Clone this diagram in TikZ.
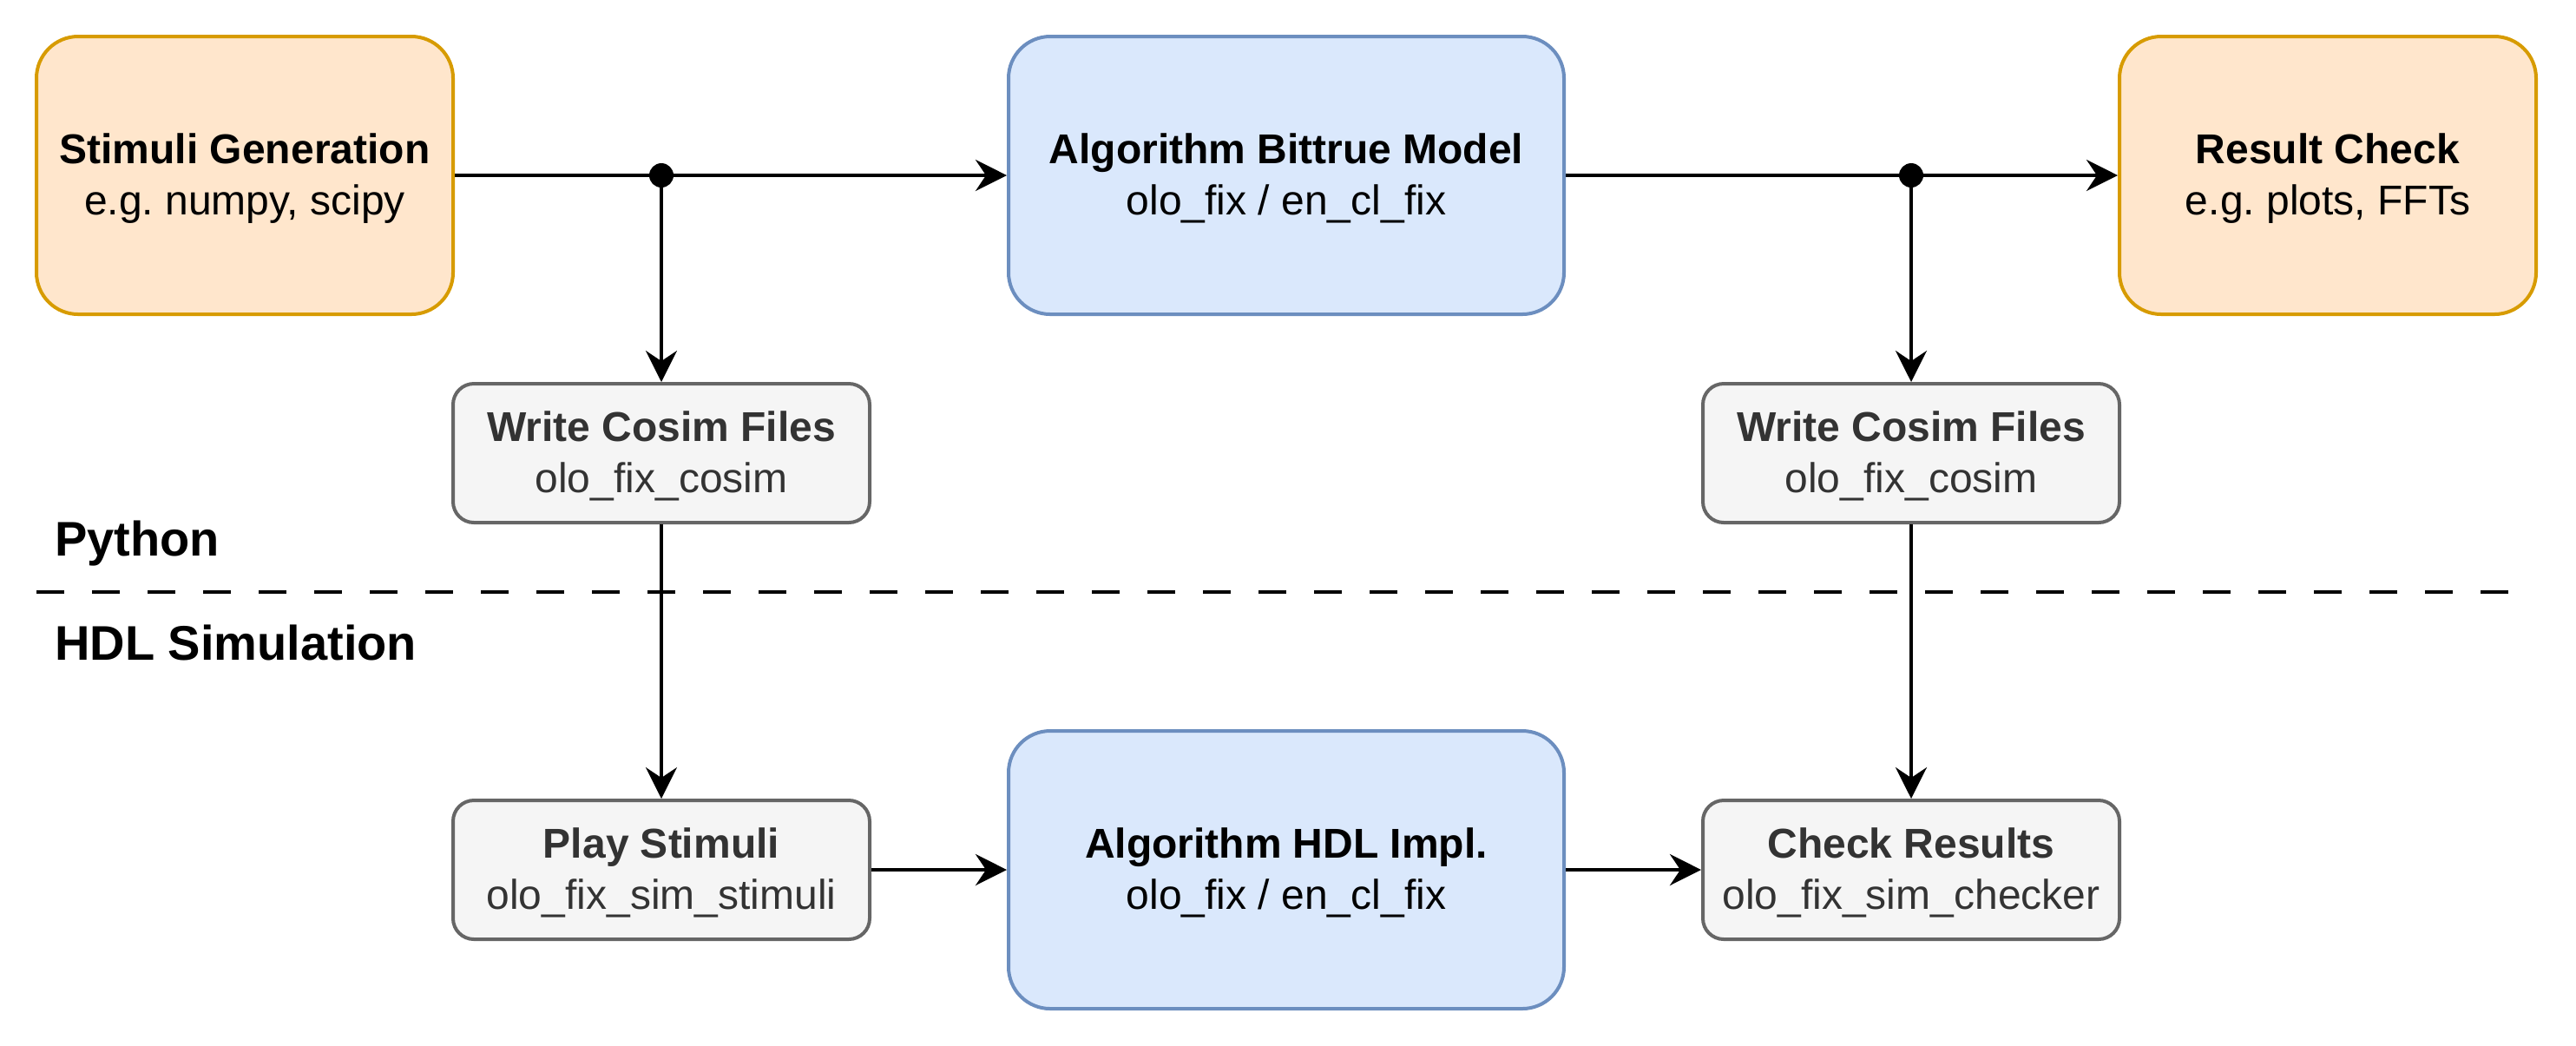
\documentclass[tikz,border=0pt]{standalone}
\usepackage{fontspec}
\setmainfont{Liberation Sans}
\frenchspacing
\usetikzlibrary{arrows.meta}
\definecolor{orfill}{HTML}{FFE6CC}
\definecolor{ordraw}{HTML}{D79B00}
\definecolor{blfill}{HTML}{DAE8FC}
\definecolor{bldraw}{HTML}{6C8EBF}
\definecolor{grfill}{HTML}{F5F5F5}
\definecolor{grdraw}{HTML}{666666}
\definecolor{grtext}{HTML}{333333}
\newcommand{\twolines}[2]{\rule{0pt}{10.4pt}\textbf{#1}\\#2}
\tikzset{
  boxbase/.style={draw, line width=1pt, inner sep=0pt, align=center,
    font=\fontsize{12}{14.8}\selectfont},
  bigbox/.style={boxbase, minimum height=80pt, rounded corners=12pt},
  orbox/.style={bigbox, fill=orfill, draw=ordraw, minimum width=120pt},
  blbox/.style={bigbox, fill=blfill, draw=bldraw, minimum width=160pt},
  grbox/.style={boxbase, fill=grfill, draw=grdraw, text=grtext,
    minimum width=120pt, minimum height=40pt, rounded corners=6pt},
  conn/.style={line width=1pt, -{Stealth[length=9pt, width=9pt, inset=3pt]}},
  junct/.style={circle, fill=black, inner sep=0pt, minimum size=7pt},
  lanelabel/.style={anchor=base west, inner sep=0pt,
    font=\fontsize{14}{16.8}\selectfont\bfseries},
  sep/.style={line width=1pt, dash pattern=on 8pt off 8pt}
}
\begin{document}
\begin{tikzpicture}[x=1pt, y=-1pt]
\useasboundingbox (0,0) rectangle (742,301);
% top row
\node[orbox] (stim) at (70.5,50.5) {\twolines{Stimuli Generation}{e.g. numpy, scipy}};
\node[blbox] (bit) at (370.5,50.5) {\twolines{Algorithm Bittrue Model}{olo\_fix / en\_cl\_fix}};
\node[orbox] (res) at (670.5,50.5) {\twolines{Result Check}{e.g. plots, FFTs}};
% cosim writers
\node[grbox] (wcL) at (190.5,130.5) {\twolines{Write Cosim Files}{olo\_fix\_cosim}};
\node[grbox] (wcR) at (550.5,130.5) {\twolines{Write Cosim Files}{olo\_fix\_cosim}};
% bottom row
\node[grbox] (play) at (190.5,250.5) {\twolines{Play Stimuli}{olo\_fix\_sim\_stimuli}};
\node[blbox] (hdl) at (370.5,250.5) {\twolines{Algorithm HDL Impl.}{olo\_fix / en\_cl\_fix}};
\node[grbox] (chk) at (550.5,250.5) {\twolines{Check Results}{olo\_fix\_sim\_checker}};
% junctions
\node[junct] (j1) at (190.5,50.5) {};
\node[junct] (j2) at (550.5,50.5) {};
% lane labels and separator
\node[lanelabel] (lpy) at (15.6,160.2) {Python};
\node[lanelabel] (lhdl) at (15.6,190) {HDL Simulation};
\coordinate (sepA) at (10.5,170.4);
\coordinate (sepB) at (722.5,170.4);
\draw[sep] (sepA) -- (sepB);
% connectors
\draw[conn] (stim.east) -- (bit.west);
\draw[conn] (bit.east) -- (res.west);
\draw[conn] (j1.center) -- (wcL.north);
\draw[conn] (j2.center) -- (wcR.north);
\draw[conn] (wcL.south) -- (play.north);
\draw[conn] (wcR.south) -- (chk.north);
\draw[conn] (play.east) -- (hdl.west);
\draw[conn] (hdl.east) -- (chk.west);
\end{tikzpicture}
\end{document}
